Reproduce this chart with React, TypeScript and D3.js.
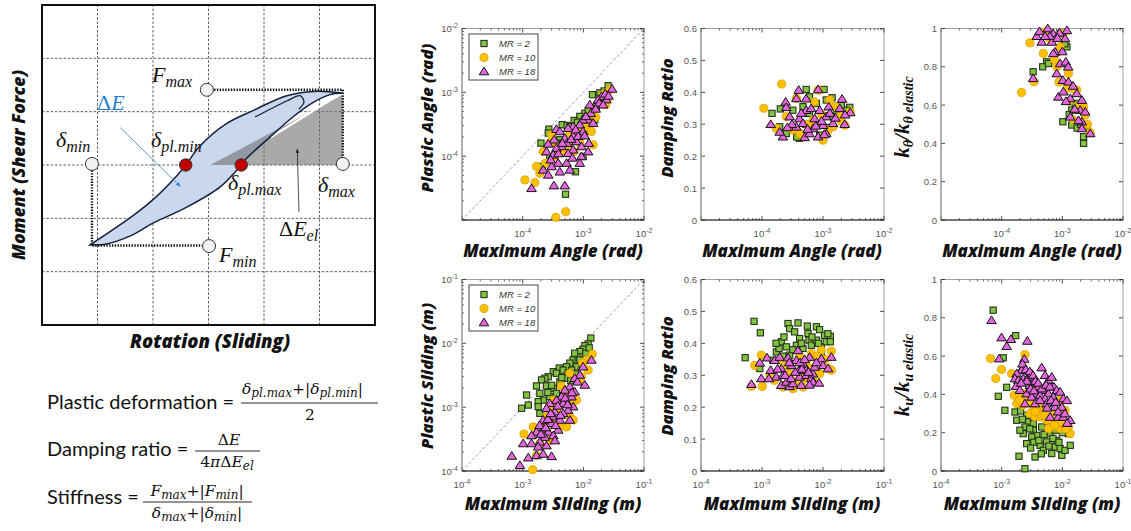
import React from "react";
import * as d3 from "d3";

type Pt = [number, number];

// ---------- Top row: maximum angle (rad) ----------
const angPlastic2: Pt[] = [
  [2.56e-3, 1.27e-3], [1.87e-3, 9.8e-4], [1.41e-3, 9.2e-4], [1.64e-3, 6.0e-4], [1.06e-3, 4.7e-4],
  [8.75e-4, 4.2e-4], [1.54e-3, 3.7e-4], [7.06e-4, 3.63e-4], [4.48e-4, 3.11e-4], [5.41e-4, 3.03e-4],
  [6.0e-4, 2.9e-4], [2.7e-4, 2.65e-4], [1.13e-3, 2.44e-4], [7.7e-4, 2.3e-4], [2.64e-4, 2.3e-4],
  [4.1e-4, 1.81e-4], [2.0e-4, 1.6e-4], [3.6e-4, 1.6e-4], [9.9e-4, 9.9e-5], [2.8e-4, 9.9e-5],
  [2.12e-4, 6.9e-5], [7.43e-4, 5.7e-5], [5.08e-4, 2.53e-5], [1.2e-3, 5.2e-4], [2.2e-3, 1.05e-3],
  [8.0e-4, 3.4e-4],
];
const angPlastic10: Pt[] = [
  [2.73e-3, 1.1e-3], [2.12e-3, 9.2e-4], [1.87e-3, 6.8e-4], [2.34e-3, 6.4e-4], [1.36e-3, 4.46e-4],
  [1.13e-3, 2.92e-4], [6.0e-4, 2.3e-4], [3.0e-4, 2.16e-4], [9.3e-4, 2.04e-4], [1.36e-3, 2.44e-4],
  [2.81e-4, 1.6e-4], [8.75e-4, 1.6e-4], [1.45e-3, 1.51e-4], [4.65e-4, 1.18e-4], [2.18e-4, 1.18e-4],
  [7.0e-4, 1.18e-4], [3.39e-4, 9.9e-5], [2.38e-4, 7.8e-5], [1.69e-4, 6.9e-5], [1.92e-4, 5.4e-5],
  [1.09e-4, 4.25e-5], [1.59e-4, 3.86e-5], [5.14e-4, 1.35e-5], [3.52e-4, 1.1e-5], [1.6e-3, 4.1e-4],
  [1.05e-3, 3.3e-4], [7.8e-4, 2.6e-4], [3.8e-4, 1.4e-4], [2.5e-3, 8.0e-4], [5.6e-4, 1.45e-4],
];
const angPlastic18: Pt[] = [
  [2.98e-3, 1.13e-3], [1.99e-3, 8.65e-4], [2.4e-3, 7.7e-4], [1.75e-3, 7.7e-4], [1.82e-3, 6.8e-4],
  [2.12e-3, 6.4e-4], [1.28e-3, 6.4e-4], [1.33e-3, 4.7e-4], [1.2e-3, 3.72e-4], [9.7e-4, 3.72e-4],
  [1.45e-3, 3.3e-4], [8.75e-4, 3.11e-4], [6.8e-4, 2.92e-4], [5.6e-4, 2.75e-4], [3.6e-4, 2.65e-4],
  [4.1e-4, 2.44e-4], [9.9e-4, 2.44e-4], [6.8e-4, 2.09e-4], [4.95e-4, 1.92e-4], [3.3e-4, 1.81e-4],
  [7.7e-4, 1.7e-4], [2.64e-4, 1.56e-4], [5.4e-4, 1.6e-4], [1.23e-3, 1.6e-4], [9.3e-4, 1.42e-4],
  [4.37e-4, 1.42e-4], [3.6e-4, 1.34e-4], [2.47e-4, 1.18e-4], [6.8e-4, 1.26e-4], [1.2e-3, 1.18e-4],
  [5.6e-4, 1.11e-4], [3.18e-4, 1.05e-4], [9.3e-4, 9.9e-5], [3.85e-4, 7.8e-5], [5.3e-4, 7.8e-5],
  [8.75e-4, 7.8e-5], [3.0e-4, 6.9e-5], [6.0e-4, 6.1e-5], [2.18e-4, 6.1e-5], [4.1e-4, 5.7e-5],
  [2.64e-4, 5.1e-5], [3.27e-4, 3.46e-5], [4.95e-4, 3.46e-5], [1.4e-4, 3.14e-5], [1.6e-3, 5.5e-4],
  [1.1e-3, 4.2e-4], [7.5e-4, 2.6e-4], [6.3e-4, 1.85e-4], [8.2e-4, 2.05e-4], [1.05e-3, 2.1e-4],
  [4.5e-4, 1.6e-4], [3.9e-4, 1.1e-4], [2.9e-4, 8.8e-5], [6.6e-4, 9.4e-5], [2.3e-3, 9.5e-4],
  [2.6e-3, 8.8e-4],
];

const angDamp2: Pt[] = [
  [1.46e-4, 0.334], [2.0e-4, 0.348], [5.3e-4, 0.409], [1.04e-3, 0.409], [6.0e-4, 0.386],
  [7.8e-4, 0.365], [1.41e-3, 0.383], [2.74e-3, 0.353], [1.46e-3, 0.324], [4.7e-4, 0.355],
  [3.2e-4, 0.344], [2.5e-4, 0.271], [4.1e-4, 0.256], [8.8e-4, 0.266], [2.4e-3, 0.344],
  [1.95e-4, 0.292], [1.13e-3, 0.376], [6.0e-4, 0.334], [1.66e-3, 0.344], [8.5e-4, 0.3],
  [1.2e-3, 0.29], [2.0e-3, 0.36], [5.2e-4, 0.3], [3.7e-4, 0.26],
];
const angDamp10: Pt[] = [
  [1.07e-4, 0.35], [2.1e-4, 0.426], [1.72e-4, 0.287], [3.66e-4, 0.381], [8.3e-4, 0.407],
  [1.29e-3, 0.376], [2.8e-3, 0.339], [2.27e-3, 0.297], [1.0e-3, 0.25], [4.7e-4, 0.261],
  [2.5e-4, 0.324], [6.9e-4, 0.313], [1.88e-3, 0.324], [3.2e-4, 0.282], [1.46e-3, 0.292],
  [5.6e-4, 0.3], [9.5e-4, 0.33], [1.6e-3, 0.355], [2.0e-3, 0.31], [4.2e-4, 0.27],
  [1.2e-3, 0.28], [7.2e-4, 0.37],
];
const angDamp18: Pt[] = [
  [1.39e-4, 0.30], [2.44e-4, 0.37], [2.5e-4, 0.353], [4.0e-4, 0.407], [8.3e-4, 0.409],
  [2.05e-3, 0.379], [2.8e-3, 0.337], [1.24e-3, 0.355], [2.2e-4, 0.261], [5.0e-4, 0.259],
  [8.3e-4, 0.261], [1.13e-3, 0.271], [2.27e-3, 0.30], [3.66e-4, 0.292], [6.9e-4, 0.287],
  [2.84e-4, 0.324], [3.66e-4, 0.381], [5.3e-4, 0.344], [7.3e-4, 0.318], [1.0e-3, 0.297],
  [1.46e-3, 0.303], [1.88e-3, 0.35], [1.95e-4, 0.276], [6.0e-4, 0.271], [8.8e-4, 0.344],
  [4.1e-4, 0.318], [1.13e-3, 0.324], [4.7e-4, 0.303], [3.1e-4, 0.30], [5.6e-4, 0.285],
  [9.5e-4, 0.31], [1.6e-3, 0.32], [2.3e-3, 0.33], [4.4e-4, 0.335], [6.4e-4, 0.35],
  [7.6e-4, 0.295], [1.05e-3, 0.268], [5.3e-4, 0.38], [1.3e-3, 0.335], [2.6e-4, 0.29],
];

const angStiff2: Pt[] = [
  [2.24e-3, 0.40], [2.24e-3, 0.435], [1.43e-3, 0.496], [1.02e-3, 0.513], [1.43e-3, 0.574],
  [1.63e-3, 0.609], [1.19e-3, 0.904], [2.54e-3, 0.487], [5.5e-4, 0.826], [9.2e-4, 0.974],
  [3.3e-4, 0.774], [4.75e-4, 0.80], [5.9e-4, 0.817], [1.3e-3, 0.55], [1.75e-3, 0.48],
  [2.0e-3, 0.5], [1.1e-3, 0.92],
];
const angStiff10: Pt[] = [
  [2.13e-4, 0.666], [2.93e-4, 0.925], [3.41e-4, 0.722], [2.88e-3, 0.456], [2.24e-3, 0.591],
  [1.73e-3, 0.678], [1.26e-3, 0.765], [1.04e-3, 0.974], [4.87e-4, 0.87], [5.2e-4, 0.983],
  [8.1e-4, 0.80], [1.19e-3, 0.687], [1.53e-3, 0.522], [2.38e-3, 0.548], [9.2e-4, 0.904],
  [7.4e-4, 0.838], [6.0e-4, 0.95], [8.8e-4, 0.72], [1.3e-3, 0.62], [1.9e-3, 0.6],
  [2.6e-3, 0.5], [1.6e-3, 0.68],
];
const angStiff18: Pt[] = [
  [3.3e-4, 0.74], [3.78e-4, 0.96], [5.75e-4, 1.0], [1.19e-3, 0.99], [7.1e-4, 0.974],
  [9.0e-4, 0.977], [1.11e-3, 0.948], [4.57e-4, 0.93], [6.7e-4, 0.93], [7.6e-4, 0.878],
  [7.1e-4, 0.87], [9.2e-4, 0.817], [1.14e-3, 0.826], [8.1e-4, 0.765], [1.02e-3, 0.73],
  [1.26e-3, 0.722], [8.6e-4, 0.643], [1.04e-3, 0.67], [1.35e-3, 0.635], [1.73e-3, 0.661],
  [2.1e-3, 0.626], [1.35e-3, 0.539], [1.97e-3, 0.574], [2.1e-3, 0.513], [2.1e-3, 0.478],
  [2.88e-3, 0.452], [2.38e-3, 0.565], [4.2e-4, 0.985], [6.2e-4, 0.96], [5.2e-4, 0.96],
  [8.3e-4, 0.95], [1.0e-3, 0.88], [1.25e-3, 0.8], [1.6e-3, 0.58], [1.85e-3, 0.52],
  [1.15e-3, 0.62], [1.5e-3, 0.7],
];

// ---------- Bottom row: maximum sliding (m) ----------
const slidePlastic2: Pt[] = [
  [1.33e-2, 1.21e-2], [1.2e-2, 9.8e-3], [1.06e-2, 9.2e-3], [9.9e-3, 8.1e-3], [8.75e-3, 7.45e-3],
  [7.2e-3, 7.0e-3], [9.9e-3, 6.2e-3], [6.8e-3, 5.5e-3], [8.2e-3, 5.2e-3], [8.75e-3, 5.5e-3],
  [6.0e-3, 4.9e-3], [5.3e-3, 4.3e-3], [7.7e-3, 4.3e-3], [4.0e-3, 4.1e-3], [4.65e-3, 3.8e-3],
  [6.4e-3, 3.8e-3], [3.2e-3, 3.6e-3], [3.6e-3, 3.4e-3], [5.6e-3, 3.4e-3], [2.64e-3, 3.0e-3],
  [2.32e-3, 2.84e-3], [4.95e-3, 2.84e-3], [2.05e-3, 2.67e-3], [4.1e-3, 2.5e-3], [1.69e-3, 2.15e-3],
  [2.47e-3, 2.15e-3], [3.2e-3, 1.97e-3], [3.6e-3, 1.65e-3], [1.92e-3, 1.65e-3], [1.16e-3, 1.55e-3],
  [2.8e-3, 1.46e-3], [2.18e-3, 1.29e-3], [1.8e-3, 1.22e-3], [1.24e-3, 1.08e-3], [1.8e-3, 1.02e-3],
  [9.6e-4, 9.6e-4], [1.92e-3, 8.0e-4], [6.2e-3, 2.6e-3], [7.5e-3, 3.3e-3], [1.1e-2, 7.0e-3],
  [1.25e-2, 8.5e-3], [3.0e-3, 2.2e-3], [2.6e-3, 1.7e-3], [4.4e-3, 2.9e-3], [9.5e-3, 4.6e-3],
];
const slidePlastic10: Pt[] = [
  [1.4e-2, 6.8e-3], [1.13e-2, 5.5e-3], [9.7e-3, 4.9e-3], [9.3e-3, 3.0e-3], [6.0e-3, 3.4e-3],
  [4.37e-3, 2.15e-3], [7.7e-3, 1.29e-3], [3.2e-3, 1.29e-3], [2.8e-3, 1.02e-3], [3.6e-3, 9.0e-4],
  [2.47e-3, 7.1e-4], [6.0e-3, 7.1e-4], [6.8e-3, 6.3e-4], [2.18e-3, 5.6e-4], [1.49e-3, 4.9e-4],
  [4.1e-3, 4.9e-4], [5.3e-3, 4.9e-4], [1.05e-3, 3.8e-4], [2.8e-3, 3.0e-4], [1.92e-3, 2.7e-4],
  [1.69e-3, 1.76e-4], [1.46e-3, 1.05e-4], [8.5e-3, 2.6e-3], [1.2e-2, 3.8e-3], [5.0e-3, 1.7e-3],
  [4.0e-3, 1.1e-3], [3.0e-3, 6.0e-4], [2.5e-3, 4.5e-4], [6.5e-3, 1.1e-3],
];
const slidePlastic18: Pt[] = [
  [1.36e-2, 5.5e-3], [9.9e-3, 4.3e-3], [8.75e-3, 3.2e-3], [7.2e-3, 2.84e-3], [1.06e-2, 2.23e-3],
  [6.0e-3, 2.1e-3], [7.2e-3, 1.75e-3], [4.95e-3, 1.86e-3], [6.4e-3, 1.46e-3], [4.37e-3, 1.46e-3],
  [5.3e-3, 1.22e-3], [3.6e-3, 1.29e-3], [4.65e-3, 1.15e-3], [6.8e-3, 1.02e-3], [2.8e-3, 1.15e-3],
  [2.47e-3, 9.6e-4], [3.4e-3, 8.5e-4], [5.6e-3, 9.0e-4], [4.65e-3, 8.0e-4], [3.2e-3, 7.1e-4],
  [6.0e-3, 6.3e-4], [4.1e-3, 6.3e-4], [3.0e-3, 5.6e-4], [2.18e-3, 6.3e-4], [3.85e-3, 4.4e-4],
  [2.18e-3, 4.6e-4], [2.64e-3, 4.1e-4], [3.2e-3, 3.6e-4], [2.32e-3, 3.4e-4], [1.69e-3, 4.1e-4],
  [1.4e-3, 3.6e-4], [1.92e-3, 2.86e-4], [2.47e-3, 2.5e-4], [3.4e-3, 3.0e-4], [1.4e-3, 2.7e-4],
  [1.02e-3, 2.7e-4], [1.8e-3, 2.4e-4], [1.69e-3, 1.76e-4], [2.18e-3, 1.85e-4], [3.0e-3, 1.7e-4],
  [1.24e-3, 1.62e-4], [6.6e-4, 1.72e-4], [9.0e-4, 1.23e-4], [3.8e-3, 1.05e-3], [5.0e-3, 1.4e-3],
  [4.2e-3, 7.5e-4], [2.6e-3, 6.5e-4], [3.5e-3, 5.2e-4], [2.0e-3, 3.8e-4], [2.9e-3, 8.0e-4],
  [5.5e-3, 1.1e-3], [6.5e-3, 1.7e-3], [8.0e-3, 2.5e-3], [1.9e-3, 5.2e-4], [2.4e-3, 4.8e-4],
];

const slideDamp2: Pt[] = [
  [5.3e-4, 0.355], [7.4e-4, 0.469], [9.4e-4, 0.433], [9.2e-4, 0.321], [1.51e-3, 0.347],
  [1.72e-3, 0.373], [1.9e-3, 0.384], [2.07e-3, 0.405], [2.29e-3, 0.42], [2.51e-3, 0.389],
  [2.67e-3, 0.462], [2.84e-3, 0.446], [2.84e-3, 0.363], [3.43e-3, 0.436], [3.66e-3, 0.394],
  [3.89e-3, 0.464], [4.14e-3, 0.415], [4.7e-3, 0.384], [5.54e-3, 0.454], [5.68e-3, 0.431],
  [5.89e-3, 0.41], [6.44e-3, 0.394], [7.8e-3, 0.452], [7.8e-3, 0.41], [8.8e-3, 0.443],
  [9.4e-3, 0.389], [9.4e-3, 0.368], [1.06e-2, 0.425], [1.13e-2, 0.405], [1.32e-2, 0.422],
  [1.32e-2, 0.405], [2.2e-3, 0.36], [3.2e-3, 0.38], [4.4e-3, 0.4], [6.6e-3, 0.42],
  [8.4e-3, 0.4], [1.2e-2, 0.43], [1.7e-3, 0.4],
];
const slideDamp10: Pt[] = [
  [7.6e-4, 0.331], [6.7e-4, 0.265], [9.75e-4, 0.363], [1.01e-3, 0.265], [1.34e-3, 0.30],
  [1.61e-3, 0.284], [1.95e-3, 0.347], [2.21e-3, 0.263], [2.35e-3, 0.269], [2.84e-3, 0.305],
  [3.22e-3, 0.258], [4.14e-3, 0.357], [4.7e-3, 0.263], [5.0e-3, 0.29], [5.33e-3, 0.337],
  [6.44e-3, 0.368], [6.86e-3, 0.29], [8.8e-3, 0.305], [9.4e-3, 0.378], [1.21e-2, 0.321],
  [1.37e-2, 0.376], [1.37e-2, 0.316], [3.5e-3, 0.28], [4.6e-3, 0.31], [6.2e-3, 0.32],
  [2.6e-3, 0.33], [8.0e-3, 0.36], [1.1e-2, 0.35],
];
const slideDamp18: Pt[] = [
  [6.7e-4, 0.272], [9.75e-4, 0.29], [9.2e-4, 0.339], [1.21e-3, 0.355], [1.39e-3, 0.316],
  [1.61e-3, 0.347], [1.72e-3, 0.295], [1.95e-3, 0.357], [2.07e-3, 0.321], [2.07e-3, 0.269],
  [2.21e-3, 0.30], [2.51e-3, 0.279], [2.67e-3, 0.355], [2.84e-3, 0.265], [3.03e-3, 0.331],
  [3.22e-3, 0.274], [3.66e-3, 0.347], [3.89e-3, 0.378], [4.04e-3, 0.316], [4.14e-3, 0.295],
  [4.41e-3, 0.269], [4.82e-3, 0.334], [5.33e-3, 0.316], [5.33e-3, 0.30], [6.04e-3, 0.357],
  [6.44e-3, 0.29], [6.86e-3, 0.305], [6.86e-3, 0.279], [7.3e-3, 0.326], [8.6e-3, 0.276],
  [9.4e-3, 0.352], [1.0e-2, 0.331], [1.21e-2, 0.321], [1.37e-2, 0.357], [2.4e-3, 0.3],
  [3.0e-3, 0.29], [3.5e-3, 0.31], [4.5e-3, 0.32], [5.8e-3, 0.31], [2.8e-3, 0.34],
  [4.2e-3, 0.34], [6.0e-3, 0.27], [7.8e-3, 0.34], [1.8e-3, 0.32], [5.0e-3, 0.35],
  [1.3e-3, 0.29],
];

const slideStiff2: Pt[] = [
  [7.25e-4, 0.84], [1.7e-3, 0.707], [1.06e-3, 0.591], [1.21e-3, 0.437], [8.8e-4, 0.39],
  [1.13e-3, 0.317], [1.66e-3, 0.308], [1.77e-3, 0.265], [2.05e-3, 0.314], [2.58e-3, 0.291],
  [2.75e-3, 0.256], [2.42e-3, 0.23], [3.33e-3, 0.247], [2.27e-3, 0.195], [2.0e-3, 0.213],
  [3.33e-3, 0.213], [3.78e-3, 0.186], [3.12e-3, 0.178], [2.58e-3, 0.143], [4.29e-3, 0.134],
  [4.87e-3, 0.108], [5.5e-3, 0.152], [5.5e-3, 0.23], [4.57e-3, 0.23], [6.3e-3, 0.195],
  [7.6e-3, 0.213], [8.1e-3, 0.16], [7.6e-3, 0.125], [6.7e-3, 0.091], [9.2e-3, 0.117],
  [9.8e-3, 0.082], [1.11e-2, 0.108], [1.26e-2, 0.195], [1.35e-2, 0.134], [1.93e-3, 0.077],
  [3.55e-3, 0.073], [2.42e-3, 0.012], [2.2e-3, 0.27], [2.9e-3, 0.22], [3.4e-3, 0.15],
  [4.1e-3, 0.16], [5.0e-3, 0.19], [6.0e-3, 0.13], [7.0e-3, 0.17], [8.8e-3, 0.15],
  [1.0e-2, 0.2], [3.0e-3, 0.12], [4.5e-3, 0.09],
];
const slideStiff10: Pt[] = [
  [6.55e-4, 0.587], [8.0e-4, 0.483], [9.96e-4, 0.53], [1.46e-3, 0.509], [2.42e-3, 0.608],
  [1.61e-3, 0.395], [1.77e-3, 0.352], [2.22e-3, 0.343], [2.27e-3, 0.404], [2.75e-3, 0.387],
  [3.33e-3, 0.317], [2.93e-3, 0.30], [3.55e-3, 0.282], [4.29e-3, 0.282], [4.29e-3, 0.326],
  [4.87e-3, 0.308], [5.5e-3, 0.265], [7.1e-3, 0.308], [8.1e-3, 0.265], [6.7e-3, 0.23],
  [5.9e-3, 0.221], [9.0e-3, 0.369], [9.2e-3, 0.221], [1.11e-2, 0.317], [1.26e-2, 0.23],
  [1.35e-2, 0.195], [3.0e-3, 0.36], [3.8e-3, 0.33], [4.6e-3, 0.29], [5.2e-3, 0.29],
  [6.0e-3, 0.27], [7.5e-3, 0.24], [1.0e-2, 0.25], [1.15e-2, 0.22], [3.6e-3, 0.31],
  [2.0e-3, 0.37],
];
const slideStiff18: Pt[] = [
  [6.8e-4, 0.787], [9.96e-4, 0.697], [1.21e-3, 0.652], [1.42e-3, 0.688], [9.1e-4, 0.587],
  [2.65e-3, 0.679], [2.36e-3, 0.585], [2.27e-3, 0.544], [2.13e-3, 0.526], [1.77e-3, 0.509],
  [1.66e-3, 0.483], [1.88e-3, 0.474], [1.72e-3, 0.443], [2.27e-3, 0.483], [2.75e-3, 0.491],
  [3.12e-3, 0.509], [2.0e-3, 0.422], [2.93e-3, 0.448], [3.33e-3, 0.465], [2.58e-3, 0.404],
  [4.03e-3, 0.439], [4.57e-3, 0.54], [5.19e-3, 0.50], [5.9e-3, 0.474], [6.7e-3, 0.491],
  [4.87e-3, 0.422], [7.3e-3, 0.439], [8.1e-3, 0.422], [5.9e-3, 0.404], [3.78e-3, 0.404],
  [3.12e-3, 0.387], [4.29e-3, 0.395], [7.1e-3, 0.387], [9.2e-3, 0.413], [5.19e-3, 0.378],
  [1.04e-2, 0.378], [1.19e-2, 0.369], [2.42e-3, 0.352], [3.55e-3, 0.352], [5.5e-3, 0.352],
  [7.6e-3, 0.334], [9.8e-3, 0.334], [6.3e-3, 0.282], [8.6e-3, 0.282], [1.04e-2, 0.282],
  [1.35e-2, 0.265], [2.2e-3, 0.56], [2.5e-3, 0.53], [2.9e-3, 0.52], [3.3e-3, 0.5],
  [2.6e-3, 0.47], [3.0e-3, 0.43], [3.6e-3, 0.47], [4.0e-3, 0.46], [4.6e-3, 0.43],
  [5.4e-3, 0.45], [6.2e-3, 0.44], [6.5e-3, 0.37], [7.8e-3, 0.36], [8.5e-3, 0.31],
  [1.1e-2, 0.3], [1.2e-2, 0.25], [3.4e-3, 0.42], [4.3e-3, 0.37], [5.6e-3, 0.33],
  [2.1e-3, 0.46],
];

const MR_LABELS = ["MR = 2", "MR = 10", "MR = 18"];
const ANGLE_X_LABELS = [1e-4, 1e-3, 1e-2];
const SLIDE_X_LABELS = [1e-4, 1e-3, 1e-2, 1e-1];
const ANGLE_PLASTIC_Y_LABELS = [1e-4, 1e-3, 1e-2];
const SLIDE_PLASTIC_Y_LABELS = [1e-4, 1e-3, 1e-2, 1e-1];
const DAMP_Y_LABELS = [0, 0.1, 0.2, 0.3, 0.4, 0.5, 0.6];
const STIFF_Y_LABELS = [0, 0.2, 0.4, 0.6, 0.8, 1];

// ---------- schematic hysteresis (grid units, 0..6) ----------
const loopUpper: Pt[] = [
  [0.865, 1.5], [1.64, 2.05], [2.0, 2.35], [2.43, 2.8], [2.59, 3.0], [2.85, 3.36],
  [3.33, 3.78], [3.8, 4.02], [4.41, 4.3], [4.9, 4.38], [5.42, 4.35],
];
const loopLower: Pt[] = [
  [5.42, 4.35], [5.19, 4.32], [4.88, 4.17], [4.52, 3.9], [4.05, 3.47], [3.69, 3.13],
  [3.59, 3.0], [3.21, 2.59], [2.61, 2.21], [2.0, 1.91], [1.59, 1.67], [1.17, 1.52], [0.865, 1.5],
];
const loopHook: Pt[] = [[3.84, 3.9], [4.41, 4.2], [4.65, 4.3], [4.72, 4.18], [4.63, 4.05]];
const elasticTri: Pt[] = [[3.03, 3.0], [5.42, 4.32], [5.42, 3.0]];
const whiteEdge: Pt[] = [[4.12, 3.52], [5.33, 4.3]];
const dottedTop: Pt[] = [[3.1, 4.41], [5.42, 4.41], [5.42, 3.12]];
const dottedBottom: Pt[] = [[0.9, 2.9], [0.9, 1.49], [2.88, 1.49]];
const openPts: Pt[] = [[2.97, 4.41], [5.42, 3.02], [0.9, 3.02], [3.01, 1.48]];
const redPts: Pt[] = [[2.59, 3.0], [3.59, 3.0]];
const blueArrow: Pt[] = [[1.41, 3.7], [2.49, 2.6]];
const blackArrow: Pt[] = [[4.63, 2.12], [4.6, 3.3]];
const GRID_LINES = [1, 2, 3, 4, 5];

const STYLES = [
  { fill: "#84c341", stroke: "#253318" },
  { fill: "#ffc000", stroke: "#d29a00" },
  { fill: "#e367dc", stroke: "#141014" },
];

function Marker({ kind, cx, cy }: { kind: number; cx: number; cy: number }) {
  const s = STYLES[kind];
  if (kind === 0)
    return <rect x={cx - 3.1} y={cy - 3.1} width={6.2} height={6.2} fill={s.fill} stroke={s.stroke} strokeWidth={1.1} />;
  if (kind === 1) return <circle cx={cx} cy={cy} r={4.1} fill={s.fill} stroke={s.stroke} strokeWidth={0.7} />;
  return (
    <path
      d={`M${cx},${cy - 4.4}L${cx + 4.8},${cy + 3.3}L${cx - 4.8},${cy + 3.3}Z`}
      fill={s.fill}
      stroke={s.stroke}
      strokeWidth={1}
    />
  );
}

const TICK_FONT = "'Liberation Sans', Arial, sans-serif";

type PanelProps = {
  left: number; right: number; top: number; bottom: number;
  xDomain: [number, number]; yDomain: [number, number]; yLog: boolean;
  xLabels: number[]; yLabels: number[];
  series: Pt[][]; diagonal?: boolean; legend?: boolean;
};

function decadesOf(dom: [number, number]) {
  const out: number[] = [];
  for (let e = Math.round(Math.log10(dom[0])); e <= Math.round(Math.log10(dom[1])); e++) out.push(Math.pow(10, e));
  return out;
}
function minorsOf(dom: [number, number]) {
  const out: number[] = [];
  const ds = decadesOf(dom);
  for (const d of ds.slice(0, -1)) for (let k = 2; k <= 9; k++) out.push(k * d);
  return out;
}

function Panel(p: PanelProps) {
  const { left, right, top, bottom } = p;
  const x = d3.scaleLog().domain(p.xDomain).range([left, right]);
  const y = p.yLog
    ? d3.scaleLog().domain(p.yDomain).range([bottom, top])
    : d3.scaleLinear().domain(p.yDomain).range([bottom, top]);
  const xMaj = decadesOf(p.xDomain);
  const xMin = minorsOf(p.xDomain);
  const yMaj = p.yLog ? decadesOf(p.yDomain) : p.yLabels;
  const yMin = p.yLog ? minorsOf(p.yDomain) : [];
  const tk = "#222";
  return (
    <g>
      <rect x={left} y={top} width={right - left} height={bottom - top} fill="#fff" stroke="#a0a0a0" strokeWidth={1} />
      {p.diagonal && (
        <line x1={left} y1={bottom} x2={right} y2={top} stroke="#8a8a8a" strokeWidth={0.8} strokeDasharray="3,2" />
      )}
      {xMaj.map((v, i) => (
        <g key={"xM" + i}>
          <line x1={x(v)} x2={x(v)} y1={bottom} y2={bottom - 4} stroke={tk} strokeWidth={0.8} />
          <line x1={x(v)} x2={x(v)} y1={top} y2={top + 4} stroke={tk} strokeWidth={0.8} />
        </g>
      ))}
      {xMin.map((v, i) => (
        <g key={"xm" + i}>
          <line x1={x(v)} x2={x(v)} y1={bottom} y2={bottom - 2} stroke={tk} strokeWidth={0.7} />
          <line x1={x(v)} x2={x(v)} y1={top} y2={top + 2} stroke={tk} strokeWidth={0.7} />
        </g>
      ))}
      {yMaj.map((v, i) => (
        <g key={"yM" + i}>
          <line x1={left} x2={left + 4} y1={y(v)} y2={y(v)} stroke={tk} strokeWidth={0.8} />
          <line x1={right} x2={right - 4} y1={y(v)} y2={y(v)} stroke={tk} strokeWidth={0.8} />
        </g>
      ))}
      {yMin.map((v, i) => (
        <g key={"ym" + i}>
          <line x1={left} x2={left + 2} y1={y(v)} y2={y(v)} stroke={tk} strokeWidth={0.7} />
          <line x1={right} x2={right - 2} y1={y(v)} y2={y(v)} stroke={tk} strokeWidth={0.7} />
        </g>
      ))}
      <line x1={left} x2={left} y1={top} y2={bottom} stroke="#9a9a9a" strokeWidth={1.2} />
      <line x1={left} x2={right} y1={bottom} y2={bottom} stroke="#1a1a1a" strokeWidth={1.2} />
      {p.series.map((ser, k) =>
        ser.map((d, i) => <Marker key={k + "-" + i} kind={k} cx={x(d[0])} cy={y(d[1])} />)
      )}
      {p.xLabels.map((v, i) => (
        <text key={"xl" + i} x={x(v)} y={bottom + 16.5} textAnchor="middle" fontFamily={TICK_FONT} fontSize={9.5} fill="#555">
          10<tspan dy={-4} fontSize={7}>{Math.round(Math.log10(v))}</tspan>
        </text>
      ))}
      {p.yLabels.map((v, i) =>
        p.yLog ? (
          <text key={"yl" + i} x={left - 4} y={y(v) + 3.5} textAnchor="end" fontFamily={TICK_FONT} fontSize={9.5} fill="#555">
            10<tspan dy={-4} fontSize={7}>{Math.round(Math.log10(v))}</tspan>
          </text>
        ) : (
          <text key={"yl" + i} x={left - 4} y={y(v) + 3.5} textAnchor="end" fontFamily={TICK_FONT} fontSize={9.5} fill="#555">
            {String(Math.round(v * 10) / 10)}
          </text>
        )
      )}
      {p.legend && (
        <g>
          <rect x={left + 7} y={top + 5.5} width={69} height={46} fill="#fff" stroke="#444" strokeWidth={1} />
          {MR_LABELS.map((lab, k) => (
            <g key={"lg" + k}>
              <Marker kind={k} cx={left + 22} cy={top + 15 + k * 14} />
              <text x={left + 37} y={top + 18.5 + k * 14} fontFamily={TICK_FONT} fontStyle="italic" fontSize={9.5} fill="#333">
                {lab}
              </text>
            </g>
          ))}
        </g>
      )}
    </g>
  );
}

const TITLE_FONT = "'Open Sans', 'Noto Sans', sans-serif";
const MATH_FONT = "'Liberation Serif', 'DejaVu Serif', serif";
const FORMULA_MATH = "'DejaVu Serif', 'Liberation Serif', serif";
const TEXT_FONT = "Lato, 'Open Sans', sans-serif";

function AxisTitleX({ x, y, children }: { x: number; y: number; children: React.ReactNode }) {
  return (
    <text x={x} y={y} textAnchor="middle" fontFamily={TITLE_FONT} fontWeight={800} fontStyle="italic" fontSize={17} fill="#111">
      {children}
    </text>
  );
}
function AxisTitleY({ x, y, children }: { x: number; y: number; children: React.ReactNode }) {
  return (
    <text transform={`translate(${x},${y}) rotate(-90)`} textAnchor="middle" fontFamily={TITLE_FONT} fontWeight={800} fontStyle="italic" fontSize={16.5} fill="#111">
      {children}
    </text>
  );
}
function KTitle({ x, y, sub }: { x: number; y: number; sub: string }) {
  return (
    <text transform={`translate(${x},${y}) rotate(-90)`} textAnchor="middle" fontFamily={MATH_FONT} fontWeight={700} fontStyle="italic" fontSize={21} fill="#111">
      k<tspan fontSize={14} dy={4}>{sub}</tspan>
      <tspan dy={-4}>/k</tspan>
      <tspan fontSize={14} dy={4}>{sub + " elastic"}</tspan>
    </text>
  );
}

function Schematic() {
  const gx = d3.scaleLinear().domain([0, 6]).range([42, 375]);
  const gy = d3.scaleLinear().domain([0, 6]).range([325, 5]);
  const curve = d3.line<Pt>().x((d) => gx(d[0])).y((d) => gy(d[1])).curve(d3.curveCatmullRom.alpha(0.5));
  const straight = d3.line<Pt>().x((d) => gx(d[0])).y((d) => gy(d[1]));
  const upper = curve(loopUpper) || "";
  const lower = (curve(loopLower) || "").replace(/^M/, "L");
  const loopPath = upper + lower + "Z";
  const ms = 22;
  const ss = 16;
  const mathText = (x: number, y: number, main: string, sub: string, fill = "#111") => (
    <text x={x} y={y} fontFamily={MATH_FONT} fontStyle="italic" fontSize={ms} fill={fill}>
      {main}
      <tspan fontSize={ss} dy={5}>{sub}</tspan>
    </text>
  );
  return (
    <g>
      <defs>
        <marker id="arrBlue" viewBox="0 0 10 10" refX="9" refY="5" markerWidth="6" markerHeight="6" orient="auto">
          <path d="M0,1L10,5L0,9Z" fill="#2b84d0" />
        </marker>
        <marker id="arrBlack" viewBox="0 0 10 10" refX="9" refY="5" markerWidth="6" markerHeight="6" orient="auto">
          <path d="M0,1L10,5L0,9Z" fill="#222" />
        </marker>
      </defs>
      <rect x={gx(0)} y={gy(6)} width={gx(6) - gx(0)} height={gy(0) - gy(6)} fill="#fff" />
      {GRID_LINES.map((v) => (
        <g key={"g" + v}>
          <line x1={gx(v)} x2={gx(v)} y1={gy(0)} y2={gy(6)} stroke="#333" strokeWidth={0.8} strokeDasharray="2.5,1.8" />
          <line x1={gx(0)} x2={gx(6)} y1={gy(v)} y2={gy(v)} stroke="#333" strokeWidth={0.8} strokeDasharray="2.5,1.8" />
        </g>
      ))}
      <path d={loopPath} fill="#c9d8ee" stroke="none" />
      <path d={(straight(elasticTri) || "") + "Z"} fill="#6f6f6f" fillOpacity={0.6} />
      <path d={straight(whiteEdge) || ""} stroke="#fff" strokeWidth={2.2} />
      <path d={loopPath} fill="none" stroke="#15203a" strokeWidth={1.5} />
      <path d={curve(loopHook) || ""} fill="none" stroke="#15203a" strokeWidth={1.3} />
      <path d={straight(dottedTop) || ""} fill="none" stroke="#111" strokeWidth={2.4} strokeDasharray="1.4,1.4" />
      <path d={straight(dottedBottom) || ""} fill="none" stroke="#111" strokeWidth={2.4} strokeDasharray="1.4,1.4" />
      {openPts.map((d, i) => (
        <circle key={"o" + i} cx={gx(d[0])} cy={gy(d[1])} r={6.5} fill="#f2f2f2" stroke="#333" strokeWidth={1} />
      ))}
      {redPts.map((d, i) => (
        <circle key={"r" + i} cx={gx(d[0])} cy={gy(d[1])} r={6.2} fill="#c00000" stroke="#333" strokeWidth={1} />
      ))}
      <path d={straight(blueArrow) || ""} stroke="#2b84d0" strokeWidth={0.8} markerEnd="url(#arrBlue)" />
      <path d={straight(blackArrow) || ""} stroke="#222" strokeWidth={0.8} markerEnd="url(#arrBlack)" />
      <rect x={gx(0)} y={gy(6)} width={gx(6) - gx(0)} height={gy(0) - gy(6)} fill="none" stroke="#111" strokeWidth={2} />

      {mathText(152, 82, "F", "max")}
      {mathText(56, 147, "δ", "min")}
      {mathText(151, 147, "δ", "pl.min")}
      {mathText(228, 190, "δ", "pl.max")}
      {mathText(318, 192, "δ", "max")}
      {mathText(219, 262, "F", "min")}
      <text x={279} y={236} fontFamily={MATH_FONT} fontSize={ms} fill="#111">
        Δ<tspan fontStyle="italic">E</tspan>
        <tspan fontStyle="italic" fontSize={ss} dy={5}>el</tspan>
      </text>
      <text x={97} y={110} fontFamily={MATH_FONT} fontSize={ms} fill="#1e7fd4">
        Δ<tspan fontStyle="italic">E</tspan>
      </text>

      <text transform="translate(25,165) rotate(-90)" textAnchor="middle" fontFamily={TITLE_FONT} fontWeight={800} fontStyle="italic" fontSize={17.5} fill="#111">
        Moment (Shear Force)
      </text>
      <text x={210} y={348} textAnchor="middle" fontFamily={TITLE_FONT} fontWeight={800} fontStyle="italic" fontSize={18.5} fill="#111">
        Rotation (Sliding)
      </text>
    </g>
  );
}

function Formulas() {
  const f = 15.5;
  const s = 12;
  return (
    <g fill="#111">
      <text x={47} y={409} fontFamily={TEXT_FONT} fontSize={20}>Plastic deformation =</text>
      <text x={242} y={394} fontFamily={FORMULA_MATH} fontSize={f}>
        <tspan fontStyle="italic">δ</tspan><tspan fontStyle="italic" fontSize={s} dy={3}>pl.max</tspan>
        <tspan dy={-3}>+|</tspan><tspan fontStyle="italic">δ</tspan>
        <tspan fontStyle="italic" fontSize={s} dy={3}>pl.min</tspan><tspan dy={-3}>|</tspan>
      </text>
      <line x1={241} x2={378} y1={403} y2={403} stroke="#111" strokeWidth={0.9} />
      <text x={310} y={420} textAnchor="middle" fontFamily={FORMULA_MATH} fontSize={f}>2</text>

      <text x={47} y={456} fontFamily={TEXT_FONT} fontSize={20}>Damping ratio =</text>
      <text x={229} y={445} textAnchor="middle" fontFamily={FORMULA_MATH} fontSize={f}>
        Δ<tspan fontStyle="italic">E</tspan>
      </text>
      <line x1={195} x2={260} y1={451} y2={451} stroke="#111" strokeWidth={0.9} />
      <text x={227} y={467} textAnchor="middle" fontFamily={FORMULA_MATH} fontSize={f}>
        4<tspan fontStyle="italic">π</tspan>Δ<tspan fontStyle="italic">E</tspan>
        <tspan fontStyle="italic" fontSize={s} dy={3}>el</tspan>
      </text>

      <text x={47} y={504} fontFamily={TEXT_FONT} fontSize={20}>Stiffness =</text>
      <text x={197} y={496} textAnchor="middle" fontFamily={FORMULA_MATH} fontSize={f}>
        <tspan fontStyle="italic">F</tspan><tspan fontStyle="italic" fontSize={s} dy={3}>max</tspan>
        <tspan dy={-3}>+|</tspan><tspan fontStyle="italic">F</tspan>
        <tspan fontStyle="italic" fontSize={s} dy={3}>min</tspan><tspan dy={-3}>|</tspan>
      </text>
      <line x1={143} x2={252} y1={502} y2={502} stroke="#111" strokeWidth={0.9} />
      <text x={197} y={518} textAnchor="middle" fontFamily={FORMULA_MATH} fontSize={f}>
        <tspan fontStyle="italic">δ</tspan><tspan fontStyle="italic" fontSize={s} dy={3}>max</tspan>
        <tspan dy={-3}>+|</tspan><tspan fontStyle="italic">δ</tspan>
        <tspan fontStyle="italic" fontSize={s} dy={3}>min</tspan><tspan dy={-3}>|</tspan>
      </text>
    </g>
  );
}

export default function App() {
  const cols = [
    [462, 644],
    [701, 884],
    [941, 1123],
  ];
  const rowTop = [28.5, 279.5];
  const rowBot = [220, 471];
  return (
    <svg width={1131} height={531} style={{ position: "absolute", left: 0, top: 0, background: "#fff" }}>
      <rect width={1131} height={531} fill="#fff" />
      <Schematic />
      <Formulas />

      <Panel left={cols[0][0]} right={cols[0][1]} top={rowTop[0]} bottom={rowBot[0]}
        xDomain={[1e-5, 1e-2]} yDomain={[1e-5, 1e-2]} yLog={true}
        xLabels={ANGLE_X_LABELS} yLabels={ANGLE_PLASTIC_Y_LABELS}
        series={[angPlastic2, angPlastic10, angPlastic18]} diagonal legend />
      <Panel left={cols[1][0]} right={cols[1][1]} top={rowTop[0]} bottom={rowBot[0]}
        xDomain={[1e-5, 1e-2]} yDomain={[0, 0.6]} yLog={false}
        xLabels={ANGLE_X_LABELS} yLabels={DAMP_Y_LABELS}
        series={[angDamp2, angDamp10, angDamp18]} />
      <Panel left={cols[2][0]} right={cols[2][1]} top={rowTop[0]} bottom={rowBot[0]}
        xDomain={[1e-5, 1e-2]} yDomain={[0, 1]} yLog={false}
        xLabels={ANGLE_X_LABELS} yLabels={STIFF_Y_LABELS}
        series={[angStiff2, angStiff10, angStiff18]} />

      <Panel left={cols[0][0]} right={cols[0][1]} top={rowTop[1]} bottom={rowBot[1]}
        xDomain={[1e-4, 1e-1]} yDomain={[1e-4, 1e-1]} yLog={true}
        xLabels={SLIDE_X_LABELS} yLabels={SLIDE_PLASTIC_Y_LABELS}
        series={[slidePlastic2, slidePlastic10, slidePlastic18]} diagonal legend />
      <Panel left={cols[1][0]} right={cols[1][1]} top={rowTop[1]} bottom={rowBot[1]}
        xDomain={[1e-4, 1e-1]} yDomain={[0, 0.6]} yLog={false}
        xLabels={SLIDE_X_LABELS} yLabels={DAMP_Y_LABELS}
        series={[slideDamp2, slideDamp10, slideDamp18]} />
      <Panel left={cols[2][0]} right={cols[2][1]} top={rowTop[1]} bottom={rowBot[1]}
        xDomain={[1e-4, 1e-1]} yDomain={[0, 1]} yLog={false}
        xLabels={SLIDE_X_LABELS} yLabels={STIFF_Y_LABELS}
        series={[slideStiff2, slideStiff10, slideStiff18]} />

      <AxisTitleY x={433} y={118}>Plastic Angle (rad)</AxisTitleY>
      <AxisTitleY x={673} y={118}>Damping Ratio</AxisTitleY>
      <KTitle x={909} y={117} sub="θ" />
      <AxisTitleX x={553} y={257}>Maximum Angle (rad)</AxisTitleX>
      <AxisTitleX x={792} y={257}>Maximum Angle (rad)</AxisTitleX>
      <AxisTitleX x={1032} y={257}>Maximum Angle (rad)</AxisTitleX>

      <AxisTitleY x={433} y={376}>Plastic Sliding (m)</AxisTitleY>
      <AxisTitleY x={673} y={376}>Damping Ratio</AxisTitleY>
      <KTitle x={909} y={375} sub="u" />
      <AxisTitleX x={553} y={510}>Maximum Sliding (m)</AxisTitleX>
      <AxisTitleX x={792} y={510}>Maximum Sliding (m)</AxisTitleX>
      <AxisTitleX x={1032} y={510}>Maximum Sliding (m)</AxisTitleX>
    </svg>
  );
}
